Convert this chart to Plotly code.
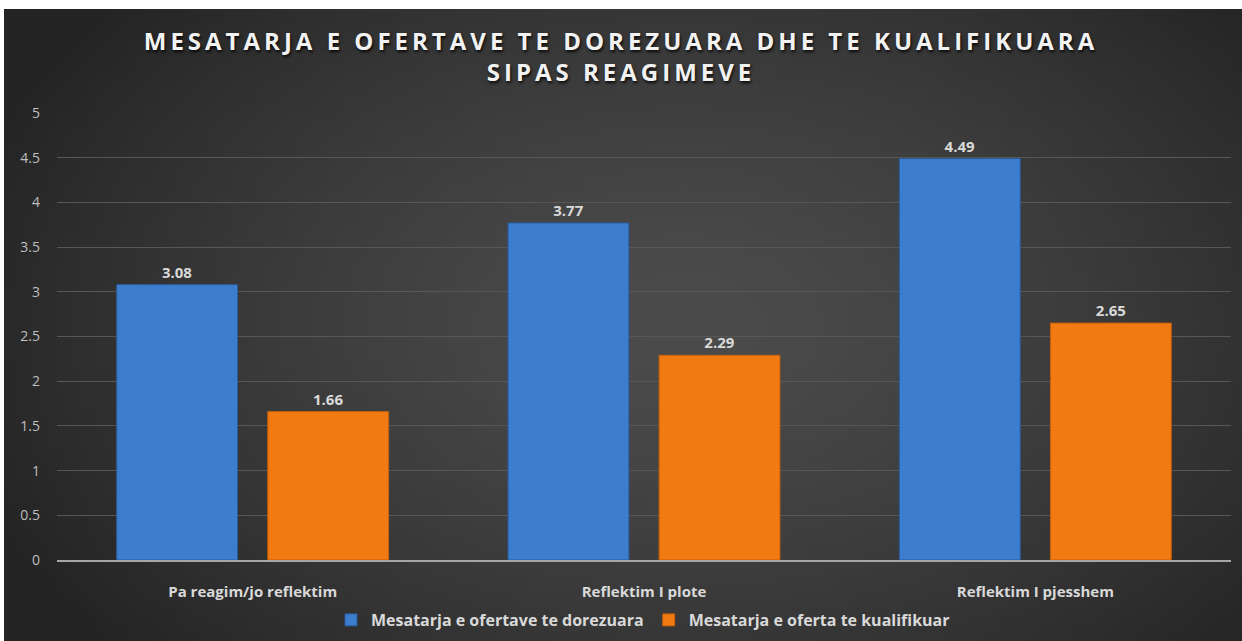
import base64
import struct
import zlib

import plotly.graph_objects as go

# data
categories = ["Pa reagim/jo reflektim", "Reflektim I plote", "Reflektim I pjesshem"]
dorezuara = [3.08, 3.77, 4.49]
kualifikuar = [1.66, 2.29, 2.65]
series_names = ["Mesatarja e ofertave te dorezuara", "Mesatarja e oferta te kualifikuar"]
title_lines = ["MESATARJA E OFERTAVE TE DOREZUARA DHE TE KUALIFIKUARA", "SIPAS REAGIMEVE"]

W, H = 1242, 641
ML, MR, MT, MB = 57, 11, 113, 81
PW, PH = W - ML - MR, H - MT - MB


def px_to_paper(x, y):
    return (x - ML) / PW, (H - MB - y) / PH


def radial_png(w, h):
    # small dark radial gradient, stretched as background
    rows = []
    for j in range(h):
        row = bytearray([0])
        for i in range(w):
            dx = (i / (w - 1) - 0.55) / 0.62
            dy = (j / (h - 1) - 0.5) / 0.8
            d = min((dx * dx + dy * dy) ** 0.5, 1.0)
            v = int(76 - 40 * d ** 1.4)
            row += bytes([v, v, v])
        rows.append(bytes(row))
    raw = b"".join(rows)

    def chunk(tag, data):
        c = struct.pack(">I", len(data)) + tag + data
        return c + struct.pack(">I", zlib.crc32(tag + data) & 0xFFFFFFFF)

    png = b"\x89PNG\r\n\x1a\n"
    png += chunk(b"IHDR", struct.pack(">IIBBBBB", w, h, 8, 2, 0, 0, 0))
    png += chunk(b"IDAT", zlib.compress(raw, 9))
    png += chunk(b"IEND", b"")
    return "data:image/png;base64," + base64.b64encode(png).decode()


label_font = dict(family="Open Sans", size=15, color="#d9d9d9", weight="bold")

fig = go.Figure()

fig.add_trace(go.Bar(
    name=series_names[0], x=categories, y=dorezuara,
    marker=dict(color="#3d7dcd", line=dict(color="#2b5c9e", width=1)),
    text=[f"{v:.2f}" for v in dorezuara], textposition="outside",
    textfont=label_font, cliponaxis=False,
))
fig.add_trace(go.Bar(
    name=series_names[1], x=categories, y=kualifikuar,
    marker=dict(color="#f17a12", line=dict(color="#c4600a", width=1)),
    text=[f"{v:.2f}" for v in kualifikuar], textposition="outside",
    textfont=label_font, cliponaxis=False,
))

# background image covering everything except the thin white border top/left
x0, y0 = px_to_paper(4, 9)
x1, y1 = px_to_paper(W, H)

fig.update_layout(
    width=W, height=H,
    margin=dict(l=ML, r=MR, t=MT, b=MB, autoexpand=False),
    paper_bgcolor="white",
    plot_bgcolor="rgba(0,0,0,0)",
    barmode="group",
    bargap=0.228,
    bargroupgap=0.2,
    images=[dict(
        source=radial_png(124, 64), xref="paper", yref="paper",
        x=x0, y=y0, sizex=x1 - x0, sizey=y0 - y1,
        xanchor="left", yanchor="top", sizing="stretch", layer="below",
    )],
    title=dict(
        text="<br>".join(f'<span style="letter-spacing:4px">{t}</span>' for t in title_lines),
        x=0.5, xanchor="center", y=1 - 50 / H, yanchor="middle",
        font=dict(family="Open Sans", size=24, color="#f2f2f2", weight="bold",
                  shadow="1px 2px 3px rgba(0,0,0,0.85)"),
    ),
    font=dict(family="Open Sans"),
    legend=dict(
        orientation="h", x=px_to_paper(643, 0)[0], xanchor="center",
        y=px_to_paper(0, 620)[1], yanchor="middle",
        font=dict(family="Open Sans", size=16, color="#d9d9d9", weight="bold"),
        bgcolor="rgba(0,0,0,0)", itemwidth=30,
    ),
    xaxis=dict(
        showgrid=False, showline=True, linecolor="#a6a6a6", linewidth=2,
        ticks="", ticklabelstandoff=17, tickfont=label_font,
    ),
    yaxis=dict(
        range=[0, 5], dtick=0.5, showgrid=True, gridcolor="#575757", gridwidth=1,
        zeroline=False, showline=False, ticks="", ticklabelstandoff=16,
        tickfont=dict(family="Open Sans", size=14, color="#bfbfbf"),
    ),
)

# drop the default body margin so the figure sits at the window origin
fig.write_html("out.html", config=dict(displayModeBar=False),
               post_script="document.body.style.margin='0';")
